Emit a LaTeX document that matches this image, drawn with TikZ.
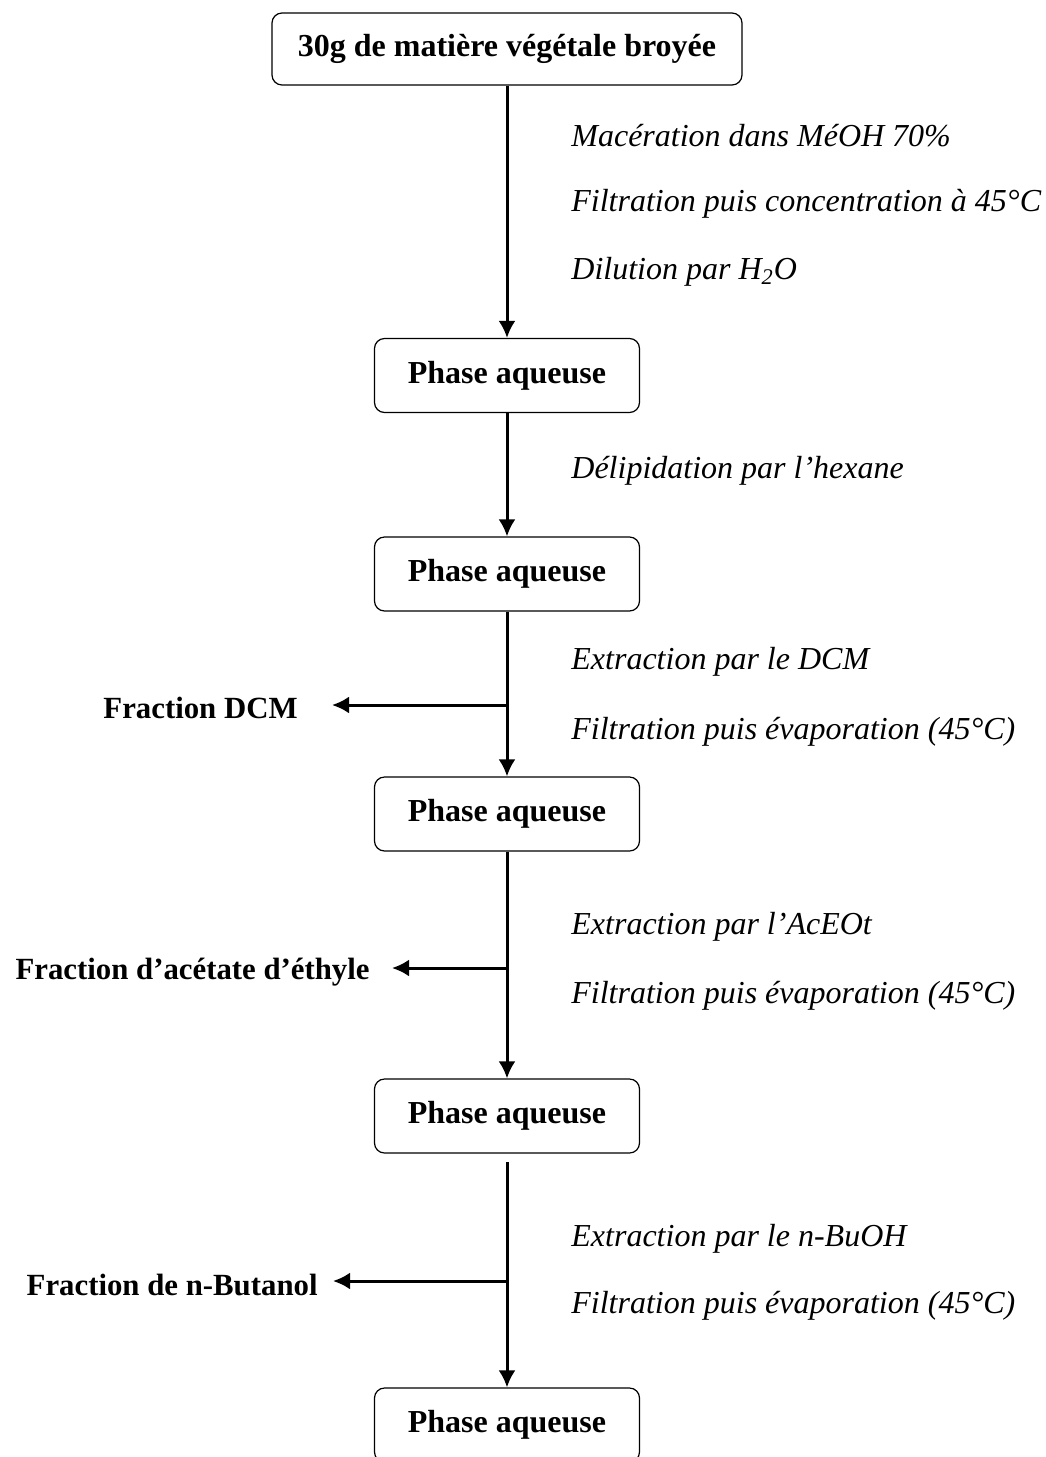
\documentclass[tikz,border=0pt]{standalone}
\usepackage{fontspec}
\setmainfont{Liberation Serif}
\usetikzlibrary{arrows.meta}

\tikzset{
  etape/.style={draw, rounded corners=5pt, line width=0.6pt, minimum width=132.5pt, minimum height=37pt, inner sep=0pt, font=\fontsize{16}{19}\selectfont\bfseries},
  legende/.style={anchor=west, inner sep=0pt, font=\fontsize{16}{19}\selectfont\itshape},
  fraction/.style={anchor=east, inner sep=0pt, font=\fontsize{15.4}{18}\selectfont\bfseries},
  fleche/.style={->, >={Latex[length=8.5pt,width=8.5pt]}, line width=1.5pt},
}

\begin{document}
\begin{tikzpicture}[x=0.5pt,y=-0.5pt]
\useasboundingbox (0,0) rectangle (1045,1457);
\clip (0,0) rectangle (1045,1457);
           \node[etape, minimum width=235pt, minimum height=36pt](matiere)  at (507,49) {30g de matière végétale broyée};
           \node[etape](phaseA)  at (507,375.5) {Phase aqueuse};
           \node[etape](phaseB)  at (507,574) {Phase aqueuse};
           \node[etape](phaseC)  at (507,814) {Phase aqueuse};
           \node[etape](phaseD)  at (507,1116) {Phase aqueuse};
           \node[etape](phaseE)  at (507,1425) {Phase aqueuse};

           \node[legende](macer)  at (571,136) {Macération dans MéOH 70\%};
           \node[legende](filtA)  at (571,204) {Filtration puis concentration à 45°C};
           \node[legende](dilut)  at (571,272) {Dilution par H\textsubscript{2}O};
           \node[legende](delip)  at (571,471) {Délipidation par l’hexane};
           \node[legende](extrDCM)  at (571,662) {Extraction par le DCM};
           \node[legende](filtB)  at (571,732) {Filtration puis évaporation (45°C)};
           \node[legende](extrAc)  at (571,927) {Extraction par l’AcEOt};
           \node[legende](filtC)  at (571,996) {Filtration puis évaporation (45°C)};
           \node[legende](extrBu)  at (571,1239) {Extraction par le n-BuOH};
           \node[legende](filtD)  at (571,1306) {Filtration puis évaporation (45°C)};

           \node[fraction](fracDCM)  at (298,708) {Fraction DCM};
           \node[fraction](fracAc)  at (370,972) {Fraction d’acétate d’éthyle};
           \node[fraction](fracBu)  at (318,1285) {Fraction de n-Butanol};

      \coordinate (jDCM) at (507,705);
      \coordinate (jAc) at (507,968);
      \coordinate (jBu) at (507,1281);
      \coordinate (tDCM) at (332,705);
      \coordinate (tAc) at (392,968);
      \coordinate (tBu) at (333,1281);
      \coordinate (depD) at (507,1162);

      \draw[fleche] (matiere) -- (phaseA);
      \draw[fleche] (phaseA) -- (phaseB);
      \draw[fleche] (phaseB) -- (phaseC);
      \draw[fleche] (phaseC) -- (phaseD);
      \draw[fleche] (depD) -- (phaseE);
      \draw[fleche] (jDCM) -- (tDCM);
      \draw[fleche] (jAc) -- (tAc);
      \draw[fleche] (jBu) -- (tBu);
          \end{tikzpicture}
\end{document}
